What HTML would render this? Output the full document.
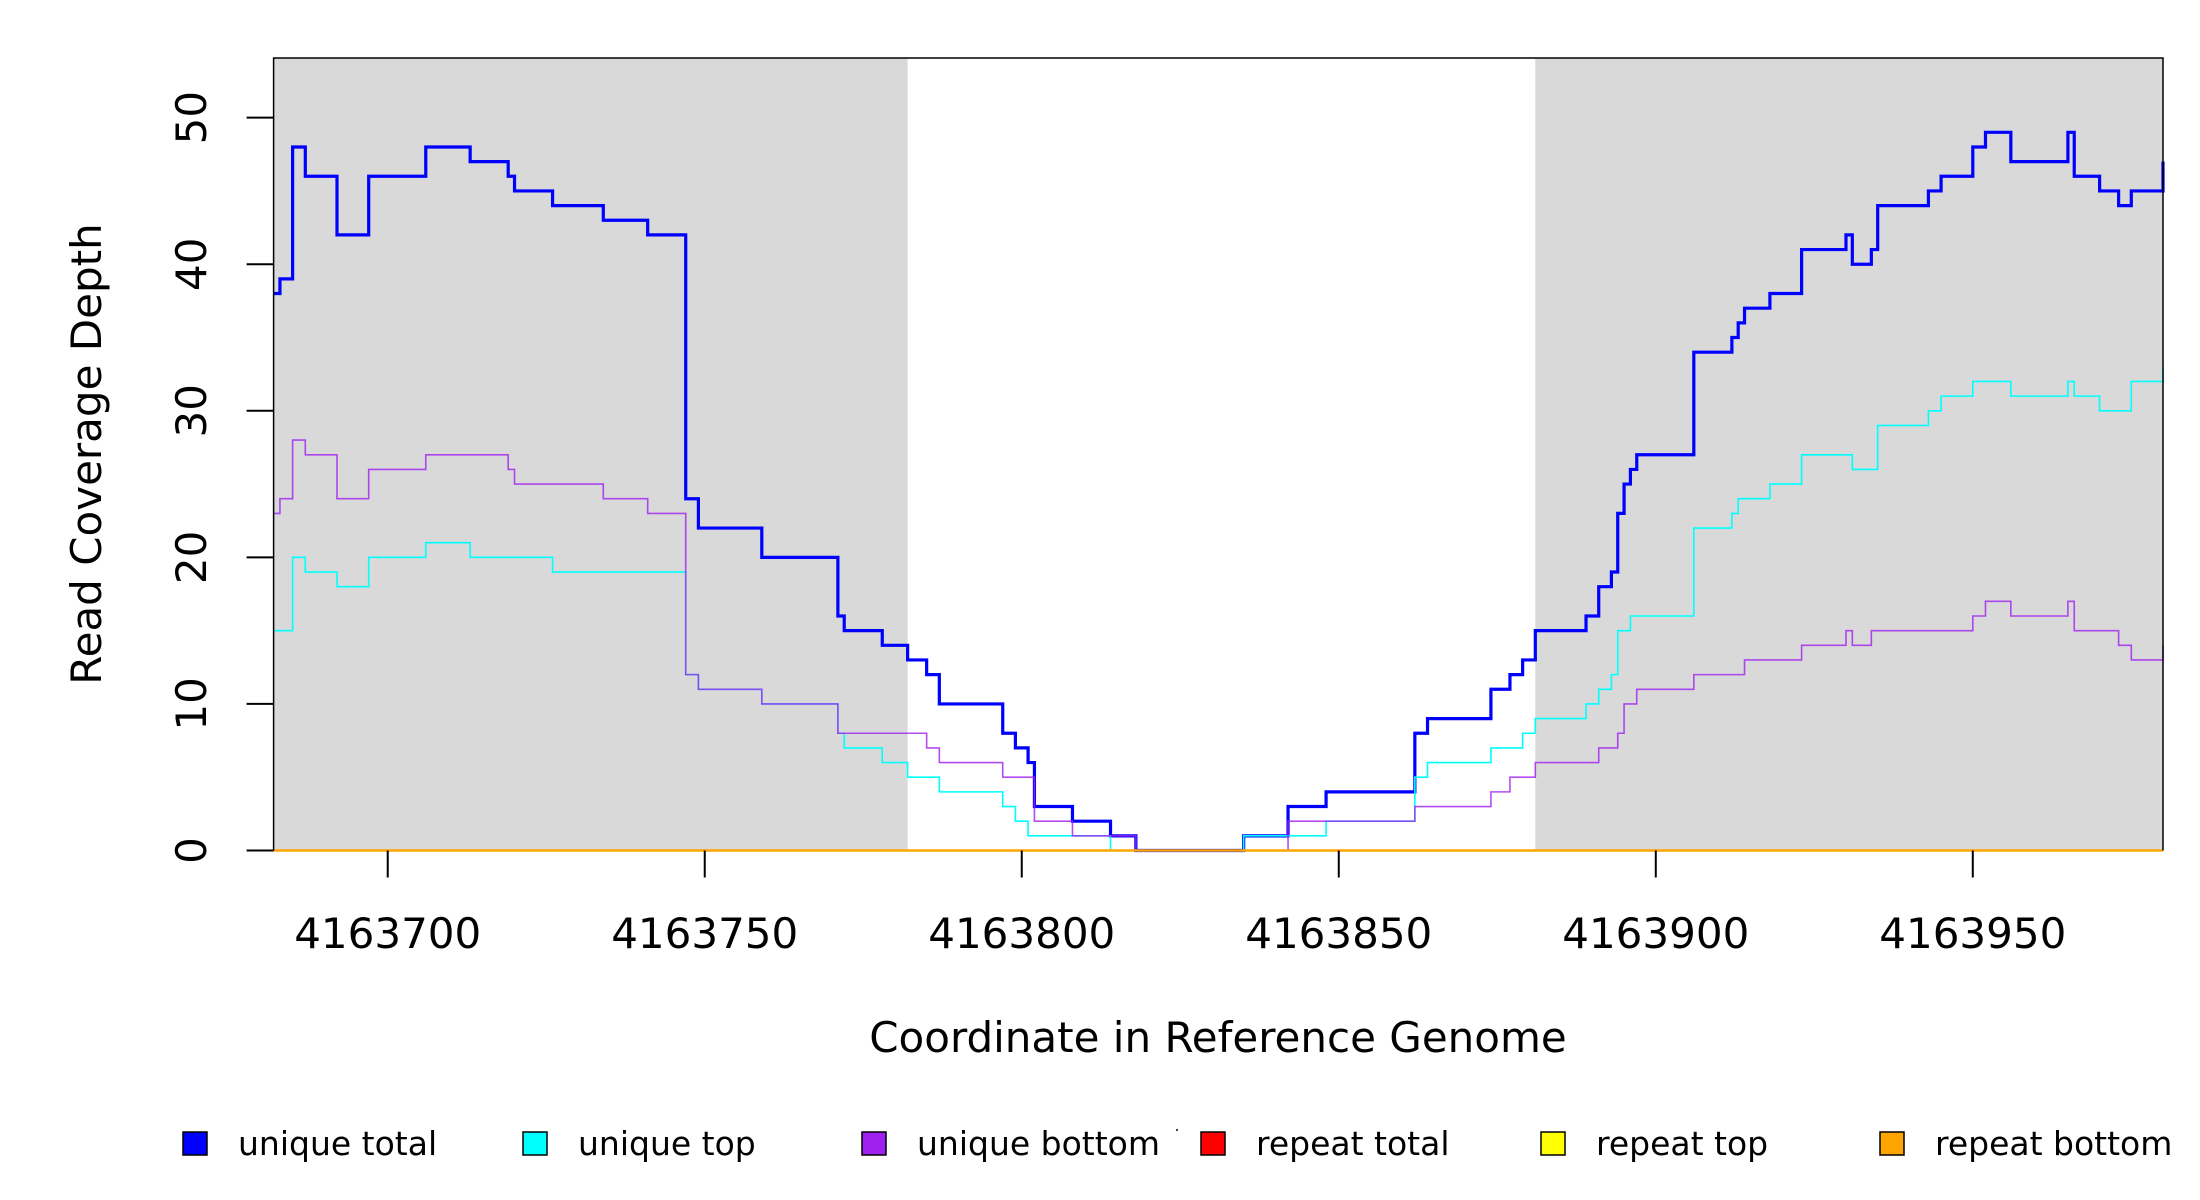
<!DOCTYPE html>
<html><head><meta charset="utf-8"><style>
html,body{margin:0;padding:0;background:#fff;}
svg{display:block;font-family:"DejaVu Sans","Liberation Sans",sans-serif;}
</style></head><body>
<svg id="chart" width="2200" height="1200" viewBox="0 0 2200 1200" xmlns="http://www.w3.org/2000/svg">
<g id="bg"></g>
<g id="series"></g>
<g id="axes"></g>
<text x="1218" y="1052" font-size="42" text-anchor="middle">Coordinate in Reference Genome</text>
<text transform="translate(101,454) rotate(-90)" font-size="42" text-anchor="middle">Read Coverage Depth</text>
<g id="legend"></g>
<rect x="1176" y="1129" width="2" height="2" fill="#444"/>
</svg>
<script>
const xMin = 4163682, xMax = 4163980;
const yMax = 54.07;
const xTicks = [4163700, 4163750, 4163800, 4163850, 4163900, 4163950];
const yTicks = [0, 10, 20, 30, 40, 50];
const shadedStarts = [4163682, 4163881];
const shadedEnds = [4163782, 4163980];
const seriesNames = ["unique total","unique top","unique bottom","repeat total","repeat top","repeat bottom"];
const seriesColors = ["#0000ff","#00ffff","#a020f0","#ff0000","#ffff00","#ffa500"];
const blueX = [682,683,685,687,692,697,706,713,719,720,726,734,741,747,749,759,771,772,778,782,785,787,797,799,801,802,808,814,818,835,842,848,862,864,874,877,879,881,889,891,893,894,895,896,897,906,912,913,914,918,923,930,931,934,935,943,945,950,952,956,965,966,970,973,975,980];
const blueY = [38,39,48,46,42,46,48,47,46,45,44,43,42,24,22,20,16,15,14,13,12,10,8,7,6,3,2,1,0,1,3,4,8,9,11,12,13,15,16,18,19,23,25,26,27,34,35,36,37,38,41,42,40,41,44,45,46,48,49,47,49,46,45,44,45,47];
const cyanX = [682,685,687,692,697,706,713,726,747,749,759,771,772,778,782,787,797,799,801,814,835,848,862,864,874,879,881,889,891,893,894,896,906,912,913,918,923,931,935,943,945,950,956,965,966,970,975,980];
const cyanY = [15,20,19,18,20,21,20,19,12,11,10,8,7,6,5,4,3,2,1,0,1,2,5,6,7,8,9,10,11,12,15,16,22,23,24,25,27,26,29,30,31,32,31,32,31,30,32,33];
const purpleX = [682,683,685,687,692,697,706,719,720,734,741,747,749,759,771,785,787,797,802,808,818,842,862,874,877,881,891,894,895,897,906,914,923,930,931,934,950,952,956,965,966,973,975,980];
const purpleY = [23,24,28,27,24,26,27,26,25,24,23,12,11,10,8,7,6,5,2,1,0,2,3,4,5,6,7,8,10,11,12,13,14,15,14,15,16,17,16,17,15,14,13,14];
const repeatX = [682,980];
const repeatTotalY = [0,0];
const repeatTopY = [0,0];
const repeatBottomY = [0,0];

const L=273.6, R=2163, T=58, B=850.5;
const xs = c => L + (c - xMin) * (R - L) / (xMax - xMin);
const ys = v => B - v * (B - T) / yMax;
const NS = "http://www.w3.org/2000/svg";
function mk(tag, attrs, parent){const e=document.createElementNS(NS,tag);for(const k in attrs)e.setAttribute(k,attrs[k]);parent.appendChild(e);return e;}

const bg = document.getElementById('bg');
for(let i=0;i<shadedStarts.length;i++){
  const r = mk('rect',{x:xs(shadedStarts[i]),y:T,width:xs(shadedEnds[i])-xs(shadedStarts[i]),height:B-T,fill:'#d9d9d9'},bg);
  
  
}

const sg = document.getElementById('series');
function stepPath(px, py){
  let d = '';
  for(let i=0;i<px.length;i++){
    const x = xs(4163000+px[i]), y = ys(py[i]);
    if(i===0) d += 'M'+x+' '+y;
    else d += ' H'+x+' V'+y;
  }
  d += ' H'+xs(xMax);
  return d;
}
const seriesData = [[blueX,blueY,3.2,1],[cyanX,cyanY,1.6,1],[purpleX,purpleY,1.6,0.8],[repeatX,repeatTotalY,2,1],[repeatX,repeatTopY,2,1],[repeatX,repeatBottomY,2.5,1]];
seriesData.forEach((s,i)=>{
  const p = mk('path',{d:stepPath(s[0],s[1]),fill:'none',stroke:seriesColors[i],'stroke-width':s[2],'stroke-opacity':s[3]},sg);
  
  
});

const ax = document.getElementById('axes');
mk('path',{d:`M${L} ${B} V${T} H${R} V${B}`,fill:'none',stroke:'#000','stroke-width':1.5},ax);
xTicks.forEach(t=>{
  const x = xs(t);
  const ln = mk('line',{x1:x,x2:x,y1:B,y2:B+27,stroke:'#000','stroke-width':2},ax);
  
  
  const tx = mk('text',{x:x,y:948,'font-size':42,'text-anchor':'middle'},ax);
  tx.textContent = t;
  
  
});
yTicks.forEach(t=>{
  const y = ys(t);
  const ln = mk('line',{x1:L-27,x2:L,y1:y,y2:y,stroke:'#000','stroke-width':2},ax);
  
  
  const tx = mk('text',{transform:`translate(206,${y}) rotate(-90)`,'font-size':42,'text-anchor':'middle'},ax);
  tx.textContent = t;
  
  
});

const lg = document.getElementById('legend');
const boxX = [183,523,862,1201,1541,1880];
seriesNames.forEach((n,i)=>{
  const r = mk('rect',{x:boxX[i],y:1132,width:24,height:23,fill:seriesColors[i],stroke:'#000','stroke-width':1.5},lg);
  
  
  const t = mk('text',{x:boxX[i]+55,y:1155,'font-size':33},lg);
  t.textContent = n;
  
  
});
</script>
</body></html>
